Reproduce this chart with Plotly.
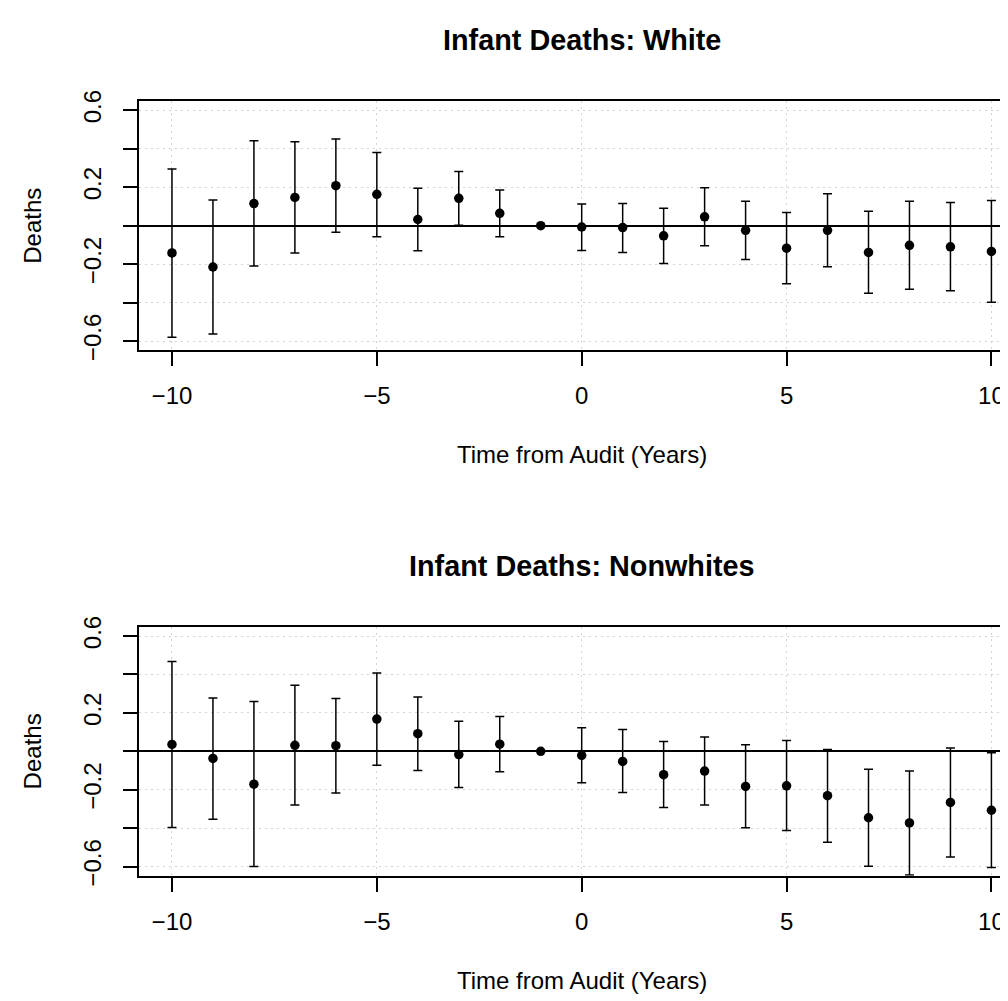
import plotly.graph_objects as go

# ---------------- data ----------------
years = list(range(-10, 11))

white_est = [-0.142, -0.215, 0.115, 0.147, 0.208, 0.163, 0.032, 0.142, 0.064, 0.0,
             -0.007, -0.010, -0.053, 0.046, -0.024, -0.117, -0.024, -0.139, -0.102, -0.110, -0.134]
white_hi = [0.295, 0.134, 0.441, 0.436, 0.451, 0.380, 0.195, 0.281, 0.186, None,
            0.112, 0.115, 0.090, 0.197, 0.127, 0.068, 0.166, 0.075, 0.127, 0.120, 0.131]
white_lo = [-0.581, -0.563, -0.210, -0.142, -0.034, -0.058, -0.131, 0.002, -0.058, None,
            -0.129, -0.139, -0.197, -0.105, -0.176, -0.302, -0.214, -0.351, -0.331, -0.339, -0.398]

nonwhite_est = [0.036, -0.037, -0.171, 0.031, 0.029, 0.168, 0.092, -0.017, 0.037, 0.0,
                -0.022, -0.053, -0.122, -0.103, -0.183, -0.180, -0.231, -0.346, -0.373, -0.266, -0.307]
nonwhite_hi = [0.468, 0.278, 0.259, 0.344, 0.275, 0.408, 0.283, 0.156, 0.181, None,
               0.122, 0.114, 0.051, 0.075, 0.034, 0.056, 0.010, -0.093, -0.103, 0.017, -0.008]
nonwhite_lo = [-0.397, -0.354, -0.600, -0.280, -0.217, -0.073, -0.100, -0.188, -0.107, None,
               -0.164, -0.215, -0.292, -0.280, -0.398, -0.412, -0.473, -0.598, -0.644, -0.551, -0.605]

titles = ["Infant Deaths: White", "Infant Deaths: Nonwhites"]
x_title = "Time from Audit (Years)"
y_title = "Deaths"
x_tickvals = [-10, -5, 0, 5, 10]
x_ticktext = ["\u221210", "\u22125", "0", "5", "10"]
y_tickvals = [-0.6, -0.4, -0.2, 0.0, 0.2, 0.4, 0.6]
y_ticktext = ["\u22120.6", "", "\u22120.2", "", "0.2", "", "0.6"]

# ---------------- figure ----------------
W, H = 1008, 1001
FONT = "Liberation Sans, Arial, Helvetica, sans-serif"

def up(est, hi):
    return [None if h is None else h - e for e, h in zip(est, hi)]

def down(est, lo):
    return [None if l is None else e - l for e, l in zip(est, lo)]

fig = go.Figure()
panels = [(white_est, white_hi, white_lo, "x", "y"),
          (nonwhite_est, nonwhite_hi, nonwhite_lo, "x2", "y2")]
for est, hi, lo, xa, ya in panels:
    fig.add_trace(go.Scatter(
        x=years, y=est, mode="markers", xaxis=xa, yaxis=ya,
        marker=dict(color="black", size=9.5),
        error_y=dict(type="data", symmetric=False,
                     array=up(est, hi), arrayminus=down(est, lo),
                     color="black", thickness=1.5, width=4.5),
        showlegend=False, hoverinfo="skip"))

left_px = 131
top_doms = [(83.7, 338.7), (621.3, 876.0)]
xrange_ = [-10.805, 10.60]
yrange_ = [-0.648, 0.649]

axis_common = dict(showline=True, linecolor="black", linewidth=1.5,
                   ticks="outside", ticklen=14.4, tickwidth=1.5, tickcolor="black",
                   showgrid=True, gridcolor="#D3D3D3", gridwidth=1.2, griddash="2px,4px",
                   tickfont=dict(family=FONT, size=24, color="black"))

layout = dict(width=W, height=H, margin=dict(l=0, r=0, t=0, b=0),
              paper_bgcolor="white", plot_bgcolor="white", showlegend=False)

annotations = []
for i, (t0, t1) in enumerate(top_doms):
    sfx = "" if i == 0 else str(i + 1)
    dom_y = [1 - t1 / H, 1 - t0 / H]
    layout["xaxis" + sfx] = dict(axis_common, domain=[left_px / W, 1.0], range=xrange_,
                                 anchor="y" + sfx, mirror=True,
                                 tickvals=x_tickvals, ticktext=x_ticktext,
                                 ticklabelstandoff=9, zeroline=False)
    layout["yaxis" + sfx] = dict(axis_common, domain=dom_y, range=yrange_,
                                 anchor="x" + sfx, mirror=False,
                                 tickvals=y_tickvals, ticktext=y_ticktext,
                                 tickangle=-90, ticklabelstandoff=12,
                                 zeroline=True, zerolinecolor="black", zerolinewidth=1.5)
    annotations.append(dict(text="<b>" + titles[i] + "</b>", xref="paper", yref="paper",
                            x=574 / W, y=1 - (t0 - 62) / H, xanchor="center", yanchor="middle",
                            showarrow=False, font=dict(family=FONT, size=28.8, color="black")))
    annotations.append(dict(text=x_title, xref="paper", yref="paper",
                            x=574 / W, y=1 - (t1 + 106.6) / H, xanchor="center", yanchor="middle",
                            showarrow=False, font=dict(family=FONT, size=24, color="black")))
    annotations.append(dict(text=y_title, xref="paper", yref="paper", textangle=-90,
                            x=24.2 / W, y=1 - ((t0 + t1) / 2) / H, xanchor="center", yanchor="middle",
                            showarrow=False, font=dict(family=FONT, size=24, color="black")))

layout["annotations"] = annotations

fig.update_layout(**layout)
fig.write_html("out.html")
